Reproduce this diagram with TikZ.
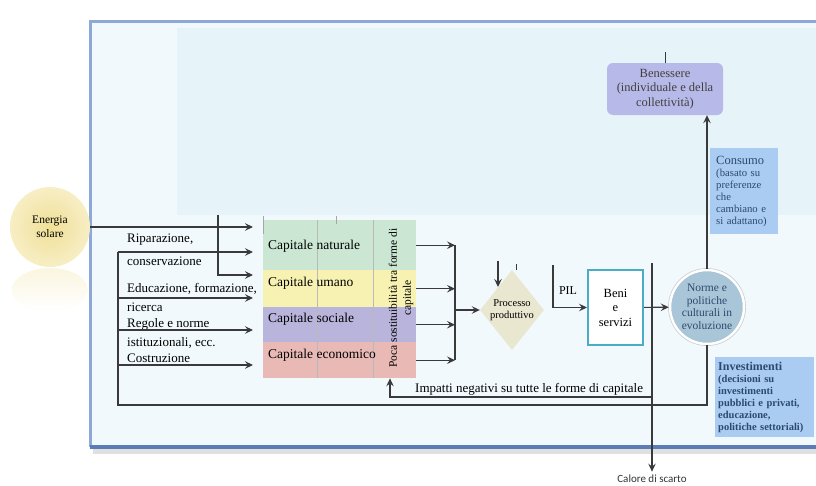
\documentclass[tikz,border=0pt]{standalone}
\usepackage{fontspec}
\setmainfont{Liberation Serif}
\newfontfamily\calibri{Carlito}
\usetikzlibrary{shapes.geometric,arrows.meta}
\definecolor{l_green}{HTML}{CBE7D3}
\definecolor{l_yellow}{HTML}{F7F2B2}
\definecolor{l_purple}{HTML}{B9B4DC}
\definecolor{l_red}{HTML}{E9BAB5}
\definecolor{l_sand}{HTML}{E9E7CF}
\definecolor{l_lilac}{HTML}{B7B9E8}
\definecolor{l_sky}{HTML}{AACCF2}
\definecolor{l_steel}{HTML}{A9C5D8}
\definecolor{l_sun}{HTML}{F0E096}
\definecolor{l_bg}{HTML}{F1F9FC}
\definecolor{l_band}{HTML}{E6F3F9}
\definecolor{d_teal}{HTML}{4BACC6}
\definecolor{d_frame}{HTML}{8EA9D8}
\definecolor{d_frame2}{HTML}{5B7CB6}
\definecolor{d_line}{HTML}{3A3A3A}
\definecolor{d_text}{HTML}{2C4A6E}

\begin{document}
\begin{tikzpicture}[x=1pt,y=-1pt,
  link/.style={draw=d_line, line width=1.1pt},
  arr/.style={link, -{Stealth[length=8pt,width=7.5pt,inset=3pt]}},
  caprow/.style={minimum width=153, minimum height=#1, anchor=north west, inner sep=0},
  caplbl/.style={anchor=west, inner sep=0, font=\fontsize{13.5}{15}\selectfont},
  sidelbl/.style={anchor=west, inner sep=0, font=\fontsize{13}{15}\selectfont},
  infobox/.style={fill=l_sky, anchor=north west, align=left, text=d_text, inner sep=0, inner xsep=6}]

\useasboundingbox (0,0) rectangle (816,485);
\clip (0,0) rectangle (816,485);

\fill[black!12] (93,449) rectangle (830,454);
\fill[l_bg] (90,21) rectangle (830,447);
\fill[l_band] (177,28) rectangle (830,215);
\draw[d_frame, line width=3] (830,21) -- (90,21) -- (90,447);
\draw[d_frame2, line width=3.5] (90,447) -- (830,447);

\shade[top color=l_sun!30!white, bottom color=white] (50,290) ellipse [x radius=38, y radius=22];
\node[circle, minimum size=80, inner sep=0, align=center, inner color=l_sun, outer color=l_sun!55!white,
  font=\fontsize{11.5}{14}\selectfont] (sole) at (50,227) {Energia\\solare};

\node[caprow=50, fill=l_green] (nat) at (263,220) {};
\node[caprow=37, fill=l_yellow] (uma) at (263,270) {};
\node[caprow=35, fill=l_purple] (soc) at (263,307) {};
\node[caprow=36, fill=l_red] (eco) at (263,342) {};
\foreach \x in {317,373}
\draw[gray!55, line width=0.5pt] (\x,220) -- (\x,378);
\draw[gray!70, line width=0.5pt] (336,216) -- (336,224);
\draw[gray!70, line width=0.5pt] (263,216) -- (263,234);

\node[caplbl] (nat_lbl) at (268,246) {Capitale naturale};
\node[caplbl] (uma_lbl) at (268,283) {Capitale umano};
\node[caplbl] (soc_lbl) at (268,319) {Capitale sociale};
\node[caplbl] (eco_lbl) at (268,355) {Capitale economico};
\node[rotate=90, align=center, font=\fontsize{11.5}{14}\selectfont] (poca) at (401,298) {Poca sostituibilità tra forme di\\capitale};

\node[sidelbl] (rip) at (127,240) {Riparazione,};
\node[sidelbl] (cons_lbl) at (127,261) {conservazione};
\node[sidelbl] (edu) at (127,289) {Educazione, formazione,};
\node[sidelbl] (ric) at (127,307) {ricerca};
\node[sidelbl] (reg) at (127,324) {Regole e norme};
\node[sidelbl] (ist) at (127,343) {istituzionali, ecc.};
\node[sidelbl] (cos) at (127,358) {Costruzione};

\node[diamond, fill=l_sand, minimum width=64, minimum height=80, inner sep=0] (proc) at (512,310) {};
\node[align=center, font=\fontsize{10.5}{12}\selectfont] (proc_lbl) at (proc) {Processo\\produttivo};
\node[font=\fontsize{12}{14}\selectfont] (pil) at (568,291) {PIL};
\node[draw=d_teal, line width=2, fill=white, minimum width=55, minimum height=75, align=center,
  font=\fontsize{12.5}{14.5}\selectfont] (beni) at (615.5,307.5) {Beni\\e\\servizi};
\node[circle, minimum size=74, inner sep=0, fill=l_steel, draw=white, line width=2.5, align=center,
  text=d_text, font=\fontsize{11.5}{12.5}\selectfont] (norme) at (707,307) {Norme e\\politiche\\culturali in\\evoluzione};
\draw[gray!40, line width=0.6] (norme) circle (38.6);
\node[rounded corners=6, fill=l_lilac, minimum width=116, minimum height=52, align=center, text=black!75,
  font=\fontsize{12.5}{14.5}\selectfont] (bene) at (665,89) {Benessere\\(individuale e della\\collettività)};
\node[infobox, minimum width=68, minimum height=86, text width=56, font=\fontsize{10.7}{12}\selectfont] (consumo) at (710,148)
  {{\fontsize{12.5}{15}\selectfont Consumo}\\(basato su\\preferenze\\che\\cambiano e\\si adattano)};
\node[infobox, minimum width=99, minimum height=80, text width=93, inner xsep=3, font=\bfseries\fontsize{10.5}{12}\selectfont] (inv) at (715,357)
  {{\fontsize{12}{15}\selectfont Investimenti}\\(decisioni su\\investimenti\\pubblici e privati,\\educazione,\\politiche settoriali)};
\node[text=black!80, font=\calibri\fontsize{11}{12}\selectfont] (calore) at (652,479) {Calore di scarto};
\node[sidelbl] (imp) at (415,389) {Impatti negativi su tutte le forme di capitale};

\coordinate (bus_top) at (118,252);
\coordinate (bus_bot) at (118,405);
\coordinate (tap) at (218,215);
\coordinate (merge) at (455,310);
\coordinate (proc_in) at (498,261);
\coordinate (pil_top) at (553,265);
\coordinate (cal_top) at (652,263);

\draw[arr, shorten >=10] (sole) -- (sole -| nat.west);
\draw[arr, shorten >=10] (tap) |- (nat.west |- 0,275);
\foreach \y in {252,298,330,365}
\draw[arr, shorten >=10] (bus_top |- 0,\y) -- (nat.west |- 0,\y);
\draw[link] (norme.south) |- (bus_bot) -- (bus_top);

\foreach \r in {nat,uma,soc,eco}
\draw[arr] (\r.east) -- (\r.east -| merge);
\draw[link] (merge |- nat.east) -- (merge |- eco.east);
\draw[arr] (merge) -- (proc.west);
\draw[arr] (proc_in) -- (proc_in |- 0,287);
\draw[link, line width=0.6] (516,264) -- (516,270);

\draw[arr] (pil_top) |- (beni.west);
\draw[arr] (beni) -- (norme);
\draw[arr] (cal_top) -- (cal_top |- calore.north);
\draw[arr] (cal_top |- 0,397) -| (eco.south -| 390,0);
\draw[arr] (norme) -- (norme |- bene.south);
\draw[link, line width=0.6] (bene.north) -- ++(0,-11);

\end{tikzpicture}
\end{document}
